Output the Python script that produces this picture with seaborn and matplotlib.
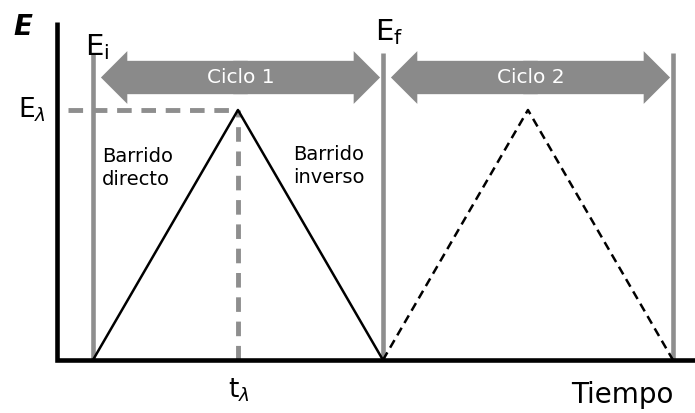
import matplotlib
matplotlib.use("Agg")
import matplotlib.pyplot as plt
import pandas as pd
import seaborn as sns

# datos del barrido triangular (voltametria ciclica)
cycle1_time = [0, 1, 2]
cycle1_E = [0, 1, 0]
cycle2_time = [2, 3, 4]
cycle2_E = [0, 1, 0]
cycle_names = ["Ciclo 1", "Ciclo 2"]
switch_times = [0, 2, 4]
switch_top = 1.23
t_lambda = 1
E_lambda = 1
arrow_level = 1.13

GRAY = "#8e8e8e"
ARROW_GRAY = "#8a8a8a"

sns.set_theme(style="white")
plt.rcParams["font.family"] = ["DejaVu Sans"]
plt.rcParams["mathtext.fontset"] = "dejavusans"
plt.rcParams["text.color"] = "black"

df = pd.DataFrame({
    "tiempo": cycle1_time + cycle2_time,
    "E": cycle1_E + cycle2_E,
    "ciclo": [cycle_names[0]] * len(cycle1_time) + [cycle_names[1]] * len(cycle2_time),
})

fig = plt.figure(figsize=(6.95, 4.13), dpi=100)
ax = fig.add_axes([0, 0, 1, 1])
ax.set_xlim(-0.641, 4.152)
ax.set_ylim(-0.212, 1.44)
ax.axis("off")

# lineas grises de inicio / cambio / final
ax.vlines(switch_times, 0, switch_top, color=GRAY, lw=3.3, zorder=2)

# lineas discontinuas de E_lambda y t_lambda
ax.plot([-0.17, t_lambda], [E_lambda, E_lambda], color=GRAY, lw=3.5,
        dashes=(3, 2), zorder=2)
ax.plot([t_lambda, t_lambda], [0, E_lambda], color=GRAY, lw=3.5,
        dashes=(3, 2), zorder=2)

sns.lineplot(data=df, x="tiempo", y="E", style="ciclo",
             dashes={cycle_names[0]: "", cycle_names[1]: (3.5, 2.2)},
             color="black", lw=1.8, sort=False, legend=False, ax=ax, zorder=3)

# ejes
ax.plot([-0.248, -0.248, 4.152], [1.352, 0, 0], color="black", lw=3.3,
        solid_joinstyle="miter", solid_capstyle="butt", zorder=4)

# flechas dobles de cada ciclo
starts = [cycle1_time[0], cycle2_time[0]]
ends = [cycle1_time[-1], cycle2_time[-1]]
for name, s, e in zip(cycle_names, starts, ends):
    left, right = s + 0.055, e - 0.02
    mid = (left + right) / 2
    for tip, back in ((left, mid + 0.05), (right, mid - 0.05)):
        ax.annotate("", xy=(tip, arrow_level), xytext=(back, arrow_level),
                    arrowprops=dict(arrowstyle="simple,head_length=1.9,head_width=3.8,tail_width=2.4",
                                    mutation_scale=10, color=ARROW_GRAY, lw=0,
                                    shrinkA=0, shrinkB=0), zorder=5)
    ax.text(mid, arrow_level, name, color="white", fontsize=14.5,
            ha="center", va="center", zorder=6)

# etiquetas
ax.text(-0.483, 1.332, "E", fontsize=20, fontstyle="italic", fontweight="bold",
        ha="center", va="center")
ax.text(-0.055, 1.22, r"E$_\mathregular{i}$", fontsize=21, ha="left", va="baseline")
ax.text(1.945, 1.28, r"E$_\mathregular{f}$", fontsize=21, ha="left", va="baseline")
ax.text(-0.517, 0.968, r"E$_\lambda$", fontsize=19, ha="left", va="baseline")
ax.text(0.93, -0.148, r"t$_\lambda$", fontsize=19, ha="left", va="baseline")
ax.text(3.648, -0.14, "Tiempo", fontsize=20, ha="center", va="center")
ax.text(0.062, 0.852, "Barrido\ndirecto", fontsize=14, ha="left", va="top",
        linespacing=1.25)
ax.text(1.379, 0.86, "Barrido\ninverso", fontsize=14, ha="left", va="top",
        linespacing=1.25)

fig.savefig("out.png", dpi=100)
